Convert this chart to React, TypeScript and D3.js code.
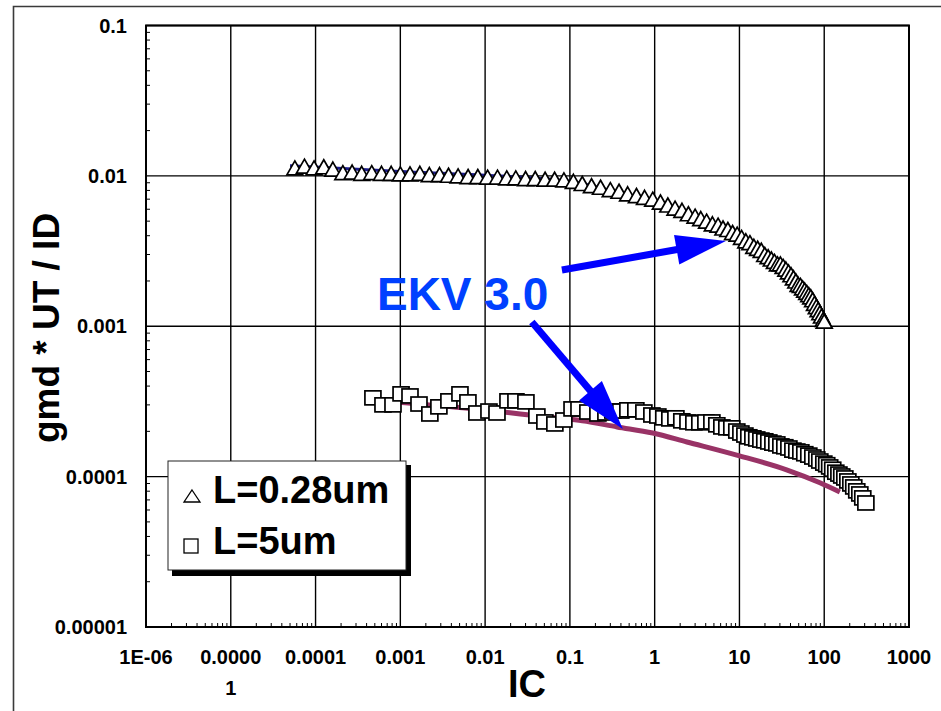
import React from 'react';
import * as d3 from 'd3';

// ---------- data ----------
const xTickValues = [1e-6, 1e-5, 1e-4, 1e-3, 1e-2, 1e-1, 1, 10, 100, 1000];
const xTickLabels = [['1E-06'], ['0.0000', '1'], ['0.0001'], ['0.001'], ['0.01'], ['0.1'], ['1'], ['10'], ['100'], ['1000']];
const yTickValues = [0.1, 0.01, 0.001, 0.0001, 0.00001];
const yTickLabels = ['0.1', '0.01', '0.001', '0.0001', '0.00001'];

// L = 0.28um measured (triangles)
const triIC = [5.7e-5, 7.4e-5, 9.6e-5, 1.25e-4, 1.6e-4, 2.1e-4, 2.7e-4, 3.5e-4, 4.6e-4, 6e-4, 7.8e-4,
  1e-3, 1.3e-3, 1.7e-3, 2.2e-3, 2.9e-3, 3.7e-3, 4.8e-3, 6.3e-3, 8.2e-3,
  1.07e-2, 1.4e-2, 1.8e-2, 2.3e-2, 3.0e-2, 3.9e-2, 5.1e-2, 6.6e-2, 8.5e-2,
  0.11, 0.14, 0.18, 0.23, 0.30, 0.38, 0.48, 0.61, 0.76, 0.95,
  1.17, 1.43, 1.74, 2.1, 2.5, 3.0, 3.5, 4.1, 4.8, 5.6,
  6.4, 7.3, 8.3, 9.4, 10.6, 11.9, 13.3, 14.8, 16.4, 18.1,
  19.9, 21.8, 23.8, 25.9, 28.1, 30.4, 32.8, 35.3, 37.9, 40.6,
  43.4, 46.3, 49.3, 52.4, 55.6, 58.9, 62.3, 65.8, 69.4, 73.1,
  76.9, 80.8, 84.8, 88.9, 93.1, 97.4, 100];
const triVal = [0.0113, 0.0116, 0.0113, 0.0115, 0.0111, 0.0105, 0.0106, 0.0104, 0.0105, 0.0104, 0.0104,
  0.0103, 0.0103, 0.0104, 0.0102, 0.0102, 0.0101, 0.0100, 0.0099, 0.0099,
  0.0098, 0.0098, 0.0097, 0.0097, 0.0096, 0.0096, 0.0095, 0.0095, 0.0094,
  0.0092, 0.0089, 0.0086, 0.0084, 0.0081, 0.0079, 0.0076, 0.0074, 0.0072, 0.0070,
  0.0067, 0.0064, 0.0061, 0.0059, 0.0056, 0.0054, 0.0052, 0.0050, 0.0048, 0.0047,
  0.0045, 0.0044, 0.0042, 0.0041, 0.0039, 0.0037, 0.0036, 0.0034, 0.0033, 0.0032,
  0.0030, 0.0029, 0.0028, 0.0027, 0.0026, 0.0026, 0.0025, 0.0024, 0.0023, 0.0022,
  0.0021, 0.0020, 0.0019, 0.00187, 0.0018, 0.00174, 0.00168, 0.00162, 0.00157, 0.0015,
  0.00142, 0.00135, 0.00129, 0.00123, 0.00117, 0.00111, 0.00108];

// L = 5um measured (squares)
const sqIC = [4.75e-4, 6.24e-4, 8.19e-4, 1.02e-3, 1.30e-3, 1.66e-3, 2.23e-3, 2.85e-3, 3.74e-3, 5.05e-3,
  6.27e-3, 8.0e-3, 1.11e-2, 1.38e-2, 1.86e-2, 2.31e-2, 3.03e-2, 4.08e-2, 5.07e-2, 6.65e-2,
  8.49e-2, 0.106, 0.128, 0.163, 0.214, 0.266, 0.321, 0.399, 0.483, 0.600,
  0.746, 0.927, 1.09, 1.28, 1.51, 1.78, 2.09, 2.47, 2.90, 3.41,
  4.02, 4.73, 5.41, 6.20, 7.10, 8.13, 9.31, 10.4, 11.6, 12.9,
  14.4, 16.0, 17.9, 19.9, 22.2, 24.8, 27.6, 30.8, 34.3, 38.3,
  42.7, 47.5, 53.0, 59.0, 65.8, 73.4, 81.8, 88.7, 98.9, 107,
  116, 126, 137, 149, 161, 175, 190, 206, 223, 242,
  263, 285, 310];
const sqVal = [3.34e-4, 3.00e-4, 3.00e-4, 3.55e-4, 3.44e-4, 3.04e-4, 2.61e-4, 2.91e-4, 3.19e-4, 3.55e-4,
  3.14e-4, 2.65e-4, 2.73e-4, 2.65e-4, 3.19e-4, 3.19e-4, 3.14e-4, 2.53e-4, 2.31e-4, 2.24e-4,
  2.38e-4, 2.82e-4, 2.82e-4, 2.69e-4, 2.61e-4, 2.65e-4, 2.73e-4, 2.73e-4, 2.78e-4, 2.78e-4,
  2.69e-4, 2.57e-4, 2.53e-4, 2.46e-4, 2.42e-4, 2.46e-4, 2.35e-4, 2.31e-4, 2.28e-4, 2.28e-4,
  2.31e-4, 2.31e-4, 2.21e-4, 2.14e-4, 2.11e-4, 2.11e-4, 2.01e-4, 1.95e-4, 1.89e-4, 1.84e-4,
  1.81e-4, 1.78e-4, 1.75e-4, 1.73e-4, 1.70e-4, 1.67e-4, 1.65e-4, 1.60e-4, 1.58e-4, 1.55e-4,
  1.50e-4, 1.48e-4, 1.46e-4, 1.42e-4, 1.39e-4, 1.35e-4, 1.31e-4, 1.27e-4, 1.23e-4, 1.20e-4,
  1.16e-4, 1.12e-4, 1.07e-4, 1.04e-4, 1.01e-4, 9.8e-5, 9.36e-5, 8.94e-5, 8.54e-5, 8.04e-5,
  7.67e-5, 7.22e-5, 6.68e-5];

// EKV 3.0 model curves
const ekvShortIC = [5e-5, 1e-3, 1e-2, 0.1, 0.3, 1, 3, 10, 30, 60, 100];
const ekvShortVal = [0.0117, 0.0107, 0.0101, 0.0092, 0.0080, 0.0067, 0.0052, 0.0039, 0.0025, 0.0016, 0.00104];
const ekvLongIC = [8.6e-4, 2.2e-3, 9.4e-3, 2.6e-2, 6.6e-2, 0.14, 0.36, 0.95, 2.4, 9.3, 36, 89, 153];
const ekvLongVal = [3.14e-4, 3.0e-4, 2.78e-4, 2.61e-4, 2.46e-4, 2.35e-4, 2.14e-4, 1.95e-4, 1.70e-4, 1.39e-4, 1.11e-4, 9.1e-5, 7.9e-5];

// annotation (data coordinates)
const annotationText = 'EKV 3.0';
const annotationPos = [5.3e-4, 1.283e-3];
const arrowShort = [[0.0805, 0.002368], [6.92, 0.003692]];
const arrowLong = [[0.0356, 0.001068], [0.4217, 2.076e-4]];

const legendLabels = ['L=0.28um', 'L=5um'];
const yTitle = 'gmd * UT / ID';
const xTitle = 'IC';

const FONT = '"Liberation Sans", Arial, Helvetica, sans-serif';

export default function App() {
  const x = d3.scaleLog().domain([1e-6, 1000]).range([146, 909]);
  const y = d3.scaleLog().domain([1e-5, 0.1]).range([627, 25.5]);
  const [x0, x1] = x.range();
  const [y0, y1] = y.range();

  const isPow10 = (v: number) => Math.abs(Math.log10(v) - Math.round(Math.log10(v))) < 1e-9;
  const xMinor = x.ticks().filter((v) => !isPow10(v));
  const yMinor = y.ticks().filter((v) => !isPow10(v));

  const line = d3.line<[number, number]>()
    .x((d) => x(d[0]))
    .y((d) => y(d[1]))
    .curve(d3.curveMonotoneX);

  const shortPts = ekvShortIC.map((v, i) => [v, ekvShortVal[i]] as [number, number]);
  const longPts = ekvLongIC.map((v, i) => [v, ekvLongVal[i]] as [number, number]);

  const tri = 'M0,-7L8,7L-8,7Z';

  const arrow = (a: number[][], key: string) => {
    const sx = x(a[0][0]), sy = y(a[0][1]);
    const tx = x(a[1][0]), ty = y(a[1][1]);
    const dx = tx - sx, dy = ty - sy;
    const len = Math.hypot(dx, dy);
    const ux = dx / len, uy = dy / len;
    const hl = 50, hw = 15;
    const bx = tx - ux * hl, by = ty - uy * hl;
    const px = -uy, py = ux;
    return (
      <g key={key}>
        <line x1={sx} y1={sy} x2={bx + ux * 2} y2={by + uy * 2} stroke="#0000FF" strokeWidth={7} />
        <polygon
          points={`${tx},${ty} ${bx + px * hw},${by + py * hw} ${bx - px * hw},${by - py * hw}`}
          fill="#0000FF"
        />
      </g>
    );
  };

  return (
    <div>
      <style>{'body{margin:0;}'}</style>
      <svg width={941} height={711} style={{ display: 'block', background: '#fff' }} fontFamily={FONT}>
        {/* outer frame */}
        <path d="M13.5,720V6.5H960" fill="none" stroke="#3a3a3a" strokeWidth={1.6} />

        {/* grid */}
        {xTickValues.map((v) => (
          <line key={'gx' + v} x1={x(v)} x2={x(v)} y1={y1} y2={y0} stroke="#000" strokeWidth={1.4} />
        ))}
        {yTickValues.map((v) => (
          <line key={'gy' + v} x1={x0} x2={x1} y1={y(v)} y2={y(v)} stroke="#000" strokeWidth={1.4} />
        ))}
        {/* minor ticks */}
        {xMinor.map((v, i) => (
          <line key={'mx' + i} x1={x(v)} x2={x(v)} y1={y0} y2={y0 - 4} stroke="#000" strokeWidth={1} />
        ))}
        {yMinor.map((v, i) => (
          <line key={'my' + i} x1={x0} x2={x0 + 4} y1={y(v)} y2={y(v)} stroke="#000" strokeWidth={1} />
        ))}
        <rect x={x0} y={y1} width={x1 - x0} height={y0 - y1} fill="none" stroke="#000" strokeWidth={2} />

        {/* tick labels */}
        {yTickValues.map((v, i) => (
          <text key={'ly' + v} x={127} y={y(v) + 7} textAnchor="end" fontSize={20} fontWeight="bold">
            {yTickLabels[i]}
          </text>
        ))}
        {xTickValues.map((v, i) => (
          <text key={'lx' + v} x={x(v)} y={664} textAnchor="middle" fontSize={20} fontWeight="bold">
            {xTickLabels[i].map((s, j) => (
              <tspan key={j} x={x(v)} dy={j === 0 ? 0 : 31}>{s}</tspan>
            ))}
          </text>
        ))}

        {/* axis titles */}
        <text x={527} y={697} textAnchor="middle" fontSize={38} fontWeight="bold">{xTitle}</text>
        <text transform="translate(59,328) rotate(-90)" textAnchor="middle" fontSize={37} fontWeight="bold">
          {yTitle}
        </text>

        {/* model curves */}
        <path d={line(shortPts) || ''} fill="none" stroke="#1c1c8a" strokeWidth={3} />
        <path d={line(longPts) || ''} fill="none" stroke="#993366" strokeWidth={5} />

        {/* measured markers */}
        {triIC.map((v, i) => (
          <path key={'t' + i} d={tri} transform={`translate(${x(v)},${y(triVal[i])})`}
            fill="#fff" stroke="#000" strokeWidth={1.7} strokeLinejoin="miter" />
        ))}
        {sqIC.map((v, i) => (
          <rect key={'s' + i} x={x(v) - 8} y={y(sqVal[i]) - 7} width={16} height={14}
            fill="#fff" stroke="#000" strokeWidth={1.7} />
        ))}

        {/* annotations */}
        {arrow(arrowShort, 'a1')}
        {arrow(arrowLong, 'a2')}
        <text x={x(annotationPos[0])} y={y(annotationPos[1])} fontSize={46} fontWeight="bold" fill="#0040FF">
          {annotationText}
        </text>

        {/* legend */}
        <rect x={172} y={465} width={239} height={111} fill="#000" />
        <rect x={168} y={461} width={238} height={109} fill="#fff" stroke="#222" strokeWidth={1} />
        <path d="M0,-6L8,6L-8,6Z" transform="translate(192,496)" fill="#fff" stroke="#000" strokeWidth={1.3} />
        <rect x={184} y={539} width={14} height={14} fill="#fff" stroke="#000" strokeWidth={1.3} />
        <text x={213} y={503} fontSize={38} fontWeight="bold">{legendLabels[0]}</text>
        <text x={213} y={554} fontSize={38} fontWeight="bold">{legendLabels[1]}</text>
      </svg>
    </div>
  );
}
